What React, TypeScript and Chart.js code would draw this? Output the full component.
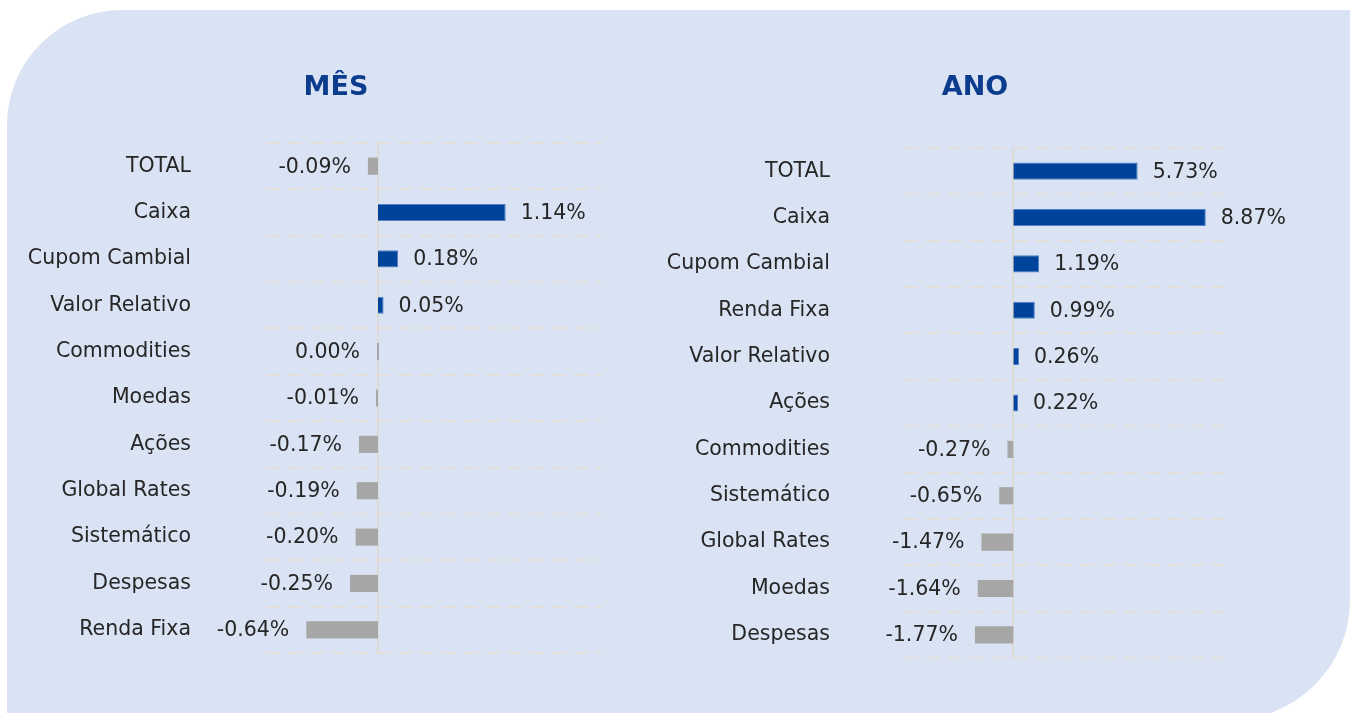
import React, { useEffect, useRef } from "react";
import { Chart, registerables } from "chart.js";

Chart.register(...registerables);

const monthTitle = "MÊS";
const monthCategories = [
  "TOTAL",
  "Caixa",
  "Cupom Cambial",
  "Valor Relativo",
  "Commodities",
  "Moedas",
  "Ações",
  "Global Rates",
  "Sistemático",
  "Despesas",
  "Renda Fixa",
];
const monthValues = [-0.09, 1.14, 0.18, 0.05, 0.0, -0.01, -0.17, -0.19, -0.2, -0.25, -0.64];

const yearTitle = "ANO";
const yearCategories = [
  "TOTAL",
  "Caixa",
  "Cupom Cambial",
  "Renda Fixa",
  "Valor Relativo",
  "Ações",
  "Commodities",
  "Sistemático",
  "Global Rates",
  "Moedas",
  "Despesas",
];
const yearValues = [5.73, 8.87, 1.19, 0.99, 0.26, 0.22, -0.27, -0.65, -1.47, -1.64, -1.77];

const BLUE = "#00439a";
const BLUE_EDGE = "#4f80c8";
const GRAY = "#a6a6a6";
const TITLE_COLOR = "#0b3c8e";
const TEXT_COLOR = "#262626";
const GRID_COLOR = "#e3ded9";
const ZERO_COLOR = "#dedad6";
const FONT = "'DejaVu Sans', sans-serif";
const FONT_SIZE = 20.5;

const gridPlugin = {
  id: "dashGrid",
  beforeDatasetsDraw(chart: any) {
    const y = chart.scales.y;
    const x = chart.scales.x;
    const { left, right, top, bottom } = chart.chartArea;
    const n = chart.data.labels.length;
    const ctx = chart.ctx;
    ctx.save();
    ctx.strokeStyle = GRID_COLOR;
    ctx.lineWidth = 2;
    ctx.setLineDash([14, 8]);
    for (let i = 0; i <= n; i++) {
      const py = Math.round(y.getPixelForValue(i - 0.5));
      ctx.beginPath();
      ctx.moveTo(left, py);
      ctx.lineTo(right, py);
      ctx.stroke();
    }
    ctx.setLineDash([]);
    ctx.strokeStyle = ZERO_COLOR;
    const zx = Math.round(x.getPixelForValue(0));
    ctx.beginPath();
    ctx.moveTo(zx, top);
    ctx.lineTo(zx, bottom);
    ctx.stroke();
    ctx.restore();
  },
};

const labelPlugin = {
  id: "valueLabels",
  afterDatasetsDraw(chart: any, _args: any, opts: any) {
    const ctx = chart.ctx;
    const meta = chart.getDatasetMeta(0);
    const values = chart.data.datasets[0].data as number[];
    ctx.save();
    ctx.font = `${FONT_SIZE}px ${FONT}`;
    ctx.fillStyle = TEXT_COLOR;
    ctx.textBaseline = "middle";
    const zx = chart.scales.x.getPixelForValue(0);
    meta.data.forEach((bar: any, i: number) => {
      const v = values[i];
      const text = v.toFixed(2) + "%";
      if (v > 0) {
        ctx.textAlign = "left";
        ctx.fillText(text, bar.x + 15, bar.y + 1);
      } else {
        ctx.textAlign = "right";
        ctx.fillText(text, Math.min(bar.x, zx) - 17, bar.y + 1);
      }
    });
    // title
    ctx.font = `bold 27px ${FONT}`;
    ctx.fillStyle = TITLE_COLOR;
    ctx.textAlign = "center";
    ctx.fillText(opts.text, chart.width / 2, opts.y);
    ctx.restore();
  },
};

type Props = {
  title: string;
  categories: string[];
  values: number[];
  left: number;
  width: number;
  axisWidth: number;
  tickPadding: number;
  padTop: number;
  padRight: number;
  padBottom: number;
  min: number;
  max: number;
};

function BarChart(p: Props) {
  const ref = useRef<HTMLCanvasElement>(null);
  useEffect(() => {
    if (!ref.current) return;
    const chart = new Chart(ref.current, {
      type: "bar",
      data: {
        labels: p.categories,
        datasets: [
          {
            data: p.values,
            backgroundColor: p.values.map((v) => (v > 0 ? BLUE : GRAY)),
            borderColor: p.values.map((v) => (v > 0 ? BLUE_EDGE : GRAY)),
            borderWidth: p.values.map((v) => (v > 0 ? 1 : 0)),
            barPercentage: 0.37,
            categoryPercentage: 1,
            minBarLength: 2,
          },
        ],
      },
      options: {
        indexAxis: "y",
        responsive: false,
        maintainAspectRatio: false,
        animation: false,
        devicePixelRatio: 1,
        layout: {
          autoPadding: false,
          padding: { left: 0, right: p.padRight, top: p.padTop, bottom: p.padBottom },
        },
        plugins: {
          legend: { display: false },
          tooltip: { enabled: false },
          title: { display: false },
          valueLabels: { text: p.title, y: 88 },
        },
        scales: {
          x: {
            display: false,
            min: p.min,
            max: p.max,
          },
          y: {
            ticks: {
              color: TEXT_COLOR,
              font: { family: FONT, size: FONT_SIZE },
              padding: p.tickPadding,
            },
            grid: { display: false, drawTicks: false },
            border: { display: false },
            afterFit: (s: any) => {
              s.width = p.axisWidth;
              s.paddingTop = 0;
              s.paddingBottom = 0;
            },
          },
        },
      },
      plugins: [gridPlugin, labelPlugin],
    } as any);
    return () => chart.destroy();
  }, []);
  return (
    <canvas
      ref={ref}
      width={p.width}
      height={713}
      style={{ position: "absolute", left: p.left, top: 0, width: p.width, height: 713 }}
    />
  );
}

export default function App() {
  return (
    <div
      style={{
        position: "absolute",
        left: 0,
        top: 0,
        width: 1355,
        height: 713,
        overflow: "hidden",
        background: "#ffffff",
      }}
    >
      <div
        style={{
          position: "absolute",
          left: 7,
          top: 10,
          width: 1343,
          height: 710,
          background: "#dae3f3",
          borderRadius: "115px 0 120px 0",
        }}
      />
      <BarChart
        title={monthTitle}
        categories={monthCategories}
        values={monthValues}
        left={0}
        width={672}
        axisWidth={266}
        tickPadding={75}
        padTop={143}
        padRight={70}
        padBottom={60}
        min={-1}
        max={2}
      />
      <BarChart
        title={yearTitle}
        categories={yearCategories}
        values={yearValues}
        left={660}
        width={630}
        axisWidth={244}
        tickPadding={74}
        padTop={148}
        padRight={66}
        padBottom={55}
        min={-5.04}
        max={9.71}
      />
    </div>
  );
}
